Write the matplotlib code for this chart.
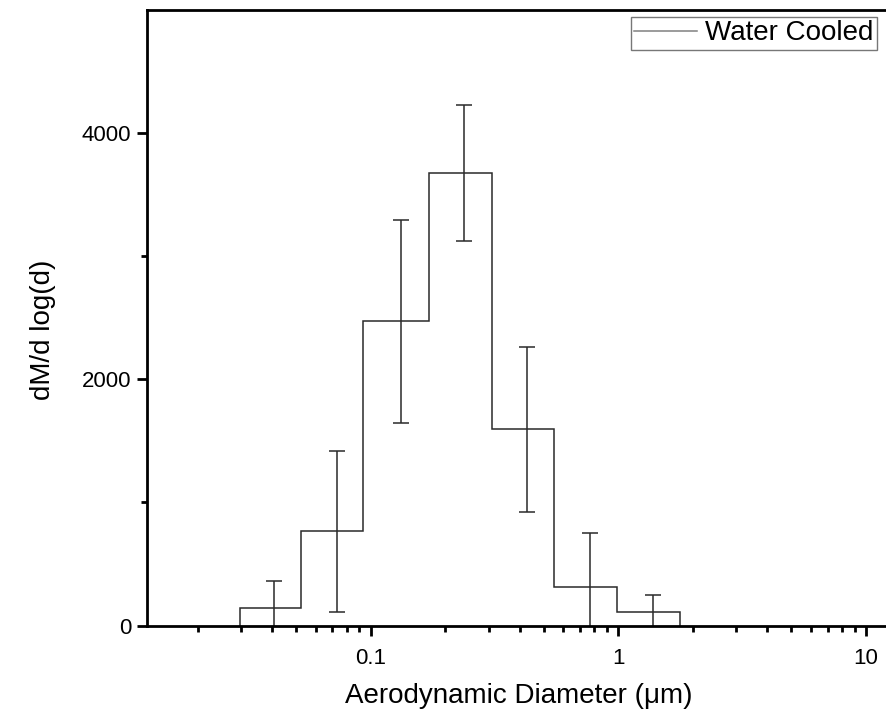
import numpy as np
import matplotlib.pyplot as plt
from matplotlib.lines import Line2D
from matplotlib.ticker import FixedLocator, LogLocator, NullFormatter, FixedFormatter

plt.rcParams['font.family'] = ['Liberation Sans', 'DejaVu Sans']

# bin edges (um), stage midpoints (um) and dM/dlog(d) per bin
edges = [0.0296, 0.0523, 0.0935, 0.172, 0.309, 0.55, 0.99, 1.77]
centers = [0.0408, 0.0728, 0.132, 0.238, 0.429, 0.768, 1.38]
values = [146, 764, 2471, 3675, 1593, 309, 106]
errors = [212, 651, 825, 553, 667, 440, 138]
label = 'Water Cooled'

fig = plt.figure(figsize=(8.86, 7.17), dpi=100)
ax = fig.add_axes([147/886, 1 - 625.5/717, (890-147)/886, (625.5-10)/717])

ax.stairs(values, edges, baseline=0, color='#2a2a2a', linewidth=1.1)
ax.errorbar(centers, values, yerr=errors, fmt='none', ecolor='#2a2a2a',
            elinewidth=1.1, capsize=6, capthick=1.1)

ax.set_xscale('log')
ax.set_xlim(0.0125, 12.5)
ax.set_ylim(0, 5000)

ax.xaxis.set_major_locator(FixedLocator([0.1, 1, 10]))
ax.xaxis.set_major_formatter(FixedFormatter(['0.1', '1', '10']))
ax.xaxis.set_minor_locator(LogLocator(base=10, subs=np.arange(2, 10)))
ax.xaxis.set_minor_formatter(NullFormatter())
ax.set_yticks([0, 2000, 4000])
ax.set_yticks([1000, 3000], minor=True)

ax.tick_params(which='major', direction='out', length=7.5, width=2)
ax.tick_params(which='minor', direction='out', length=4, width=2)
ax.tick_params(axis='x', which='major', labelsize=16, pad=9)
ax.tick_params(axis='y', which='major', labelsize=16, pad=4)
for s in ax.spines.values():
    s.set_linewidth(2)

ax.set_xlabel('Aerodynamic Diameter (\u03bcm)', fontsize=20, labelpad=10)
ax.set_ylabel('dM/d log(d)', fontsize=20)
ax.yaxis.set_label_coords(-0.123, 0.48)

handle = Line2D([], [], color='#808080', linewidth=1.1)
leg = ax.legend([handle], [label], loc='upper right', bbox_to_anchor=(877/886, 1 - 17/717),
                bbox_transform=fig.transFigure, fontsize=20, frameon=True, fancybox=False,
                borderpad=0.12, borderaxespad=0, handlelength=2.25, handletextpad=0.3)
leg.get_frame().set_edgecolor('#555555')
leg.get_frame().set_linewidth(1)

fig.savefig('out.png', dpi=100)
